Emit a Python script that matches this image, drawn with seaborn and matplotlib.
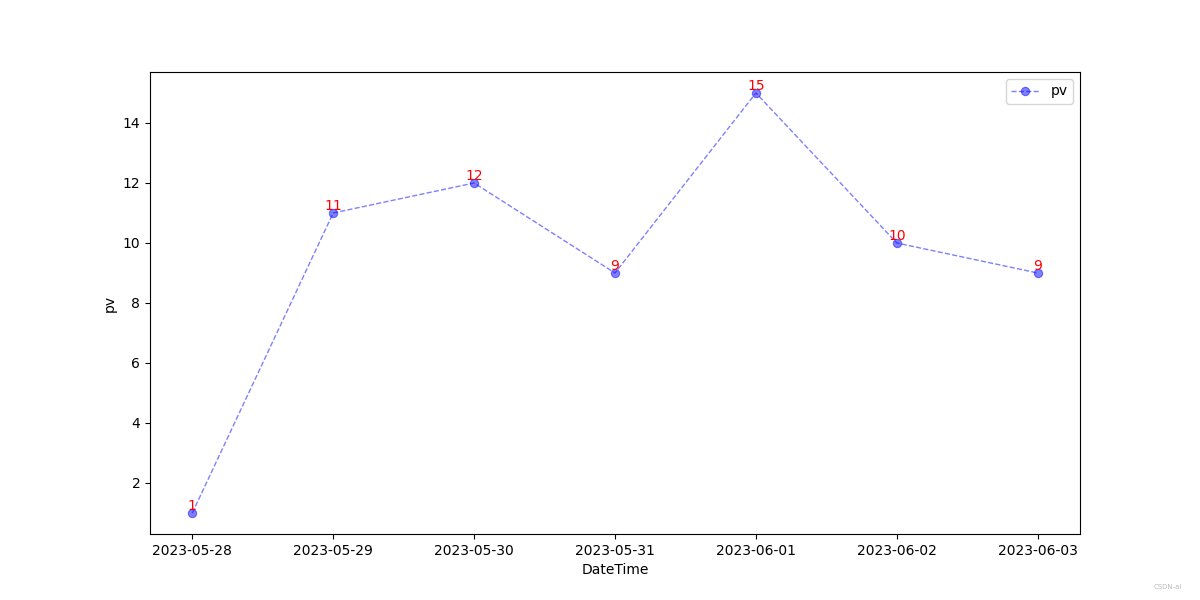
import matplotlib
matplotlib.use('Agg')
import matplotlib.pyplot as plt
import seaborn as sns
import pandas as pd

# data
dates = ['2023-05-28', '2023-05-29', '2023-05-30', '2023-05-31',
         '2023-06-01', '2023-06-02', '2023-06-03']
pv = [1, 11, 12, 9, 15, 10, 9]

df = pd.DataFrame({'DateTime': dates, 'pv': pv})

fig, ax = plt.subplots(figsize=(12, 6), dpi=100)

sns.lineplot(data=df, x='DateTime', y='pv', ax=ax, color='blue', alpha=0.5,
             linestyle='--', linewidth=1, marker='o', markersize=6,
             markeredgecolor='blue', label='pv')

# value labels above each point
for i, v in enumerate(df['pv']):
    ax.text(i, v, str(v), color='red', ha='center', va='bottom', fontsize=10)

ax.set_xlabel('DateTime')
ax.set_ylabel('pv')
ax.legend(loc='upper right')

fig.text(0.985, 0.018, 'CSDN-ai', fontsize=5, color='#bbbbbb', ha='right')

plt.savefig('out.png')
